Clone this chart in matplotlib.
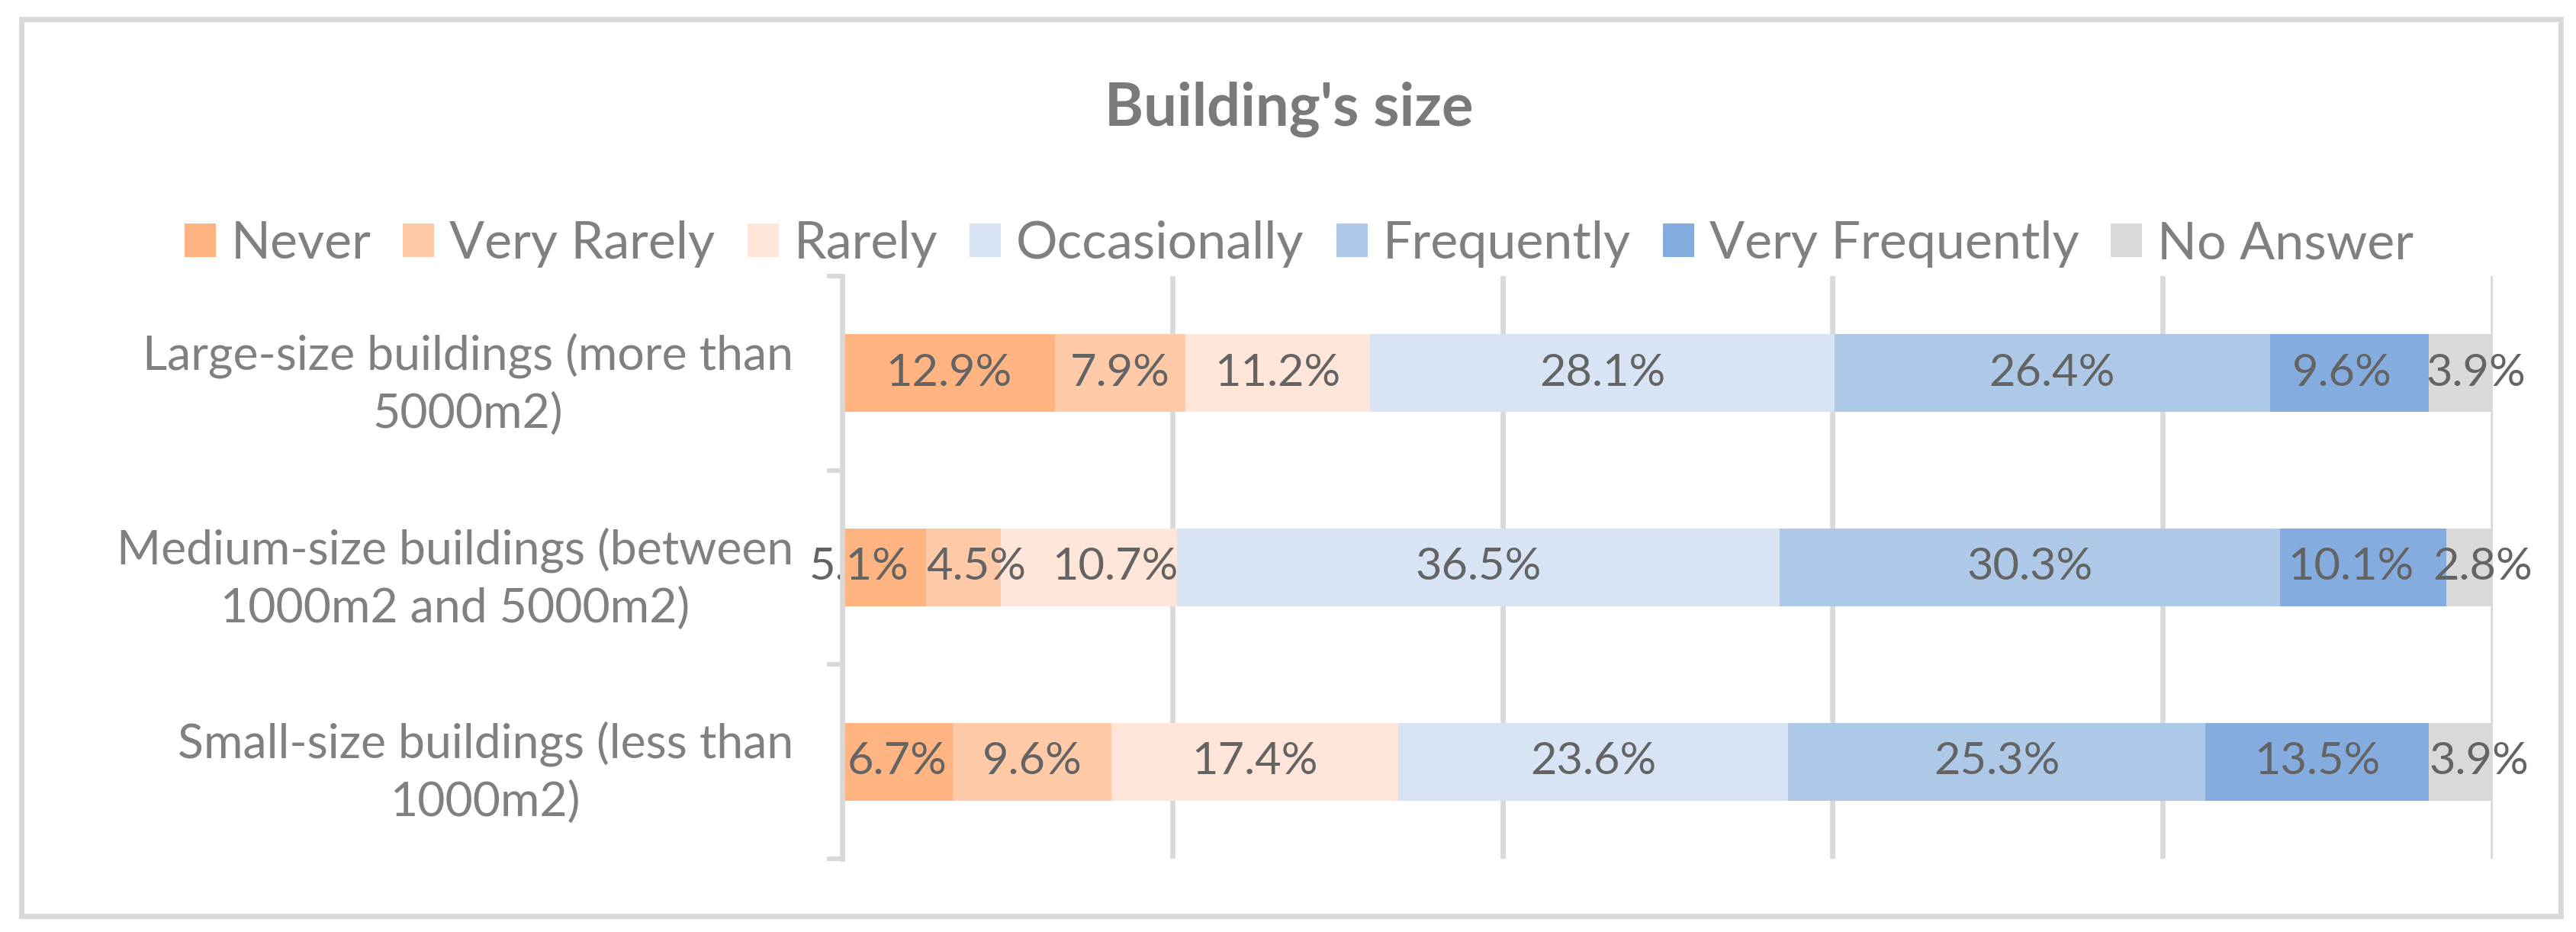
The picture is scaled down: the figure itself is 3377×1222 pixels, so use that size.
import matplotlib
matplotlib.use('Agg')
import matplotlib.pyplot as plt
from matplotlib.font_manager import FontProperties
from matplotlib.textpath import TextPath
from matplotlib.patches import Rectangle, Patch
import numpy as np

# ---------------- data ----------------
categories = [
    "Large-size buildings (more than\n5000m2)",
    "Medium-size buildings (between\n1000m2 and 5000m2)",
    "Small-size buildings (less than\n1000m2)",
]
series_names = ["Never", "Very Rarely", "Rarely", "Occasionally",
                "Frequently", "Very Frequently", "No Answer"]
never = [12.9, 5.1, 6.7]
very_rarely = [7.9, 4.5, 9.6]
rarely = [11.2, 10.7, 17.4]
occasionally = [28.1, 36.5, 23.6]
frequently = [26.4, 30.3, 25.3]
very_frequently = [9.6, 10.1, 13.5]
no_answer = [3.9, 2.8, 3.9]
title = "Building's size"
x_ticks = [0, 20, 40, 60, 80, 100]

series_values = [never, very_rarely, rarely, occasionally,
                 frequently, very_frequently, no_answer]
colors = ["#FFB482", "#FFCAA8", "#FFE6D8", "#D8E4F4",
          "#AEC8E8", "#84ACDE", "#D9D9D9"]

# horizontal nudges (pixels) of a few data labels that were moved in the original
label_nudge_px = {(1, 0): -33, (1, 1): 17, (1, 2): 34, (1, 5): -16, (1, 6): 17,
                  (0, 5): -9, (0, 6): 20, (2, 6): 24}

# ---------------- layout helpers ----------------
W, H, DPI = 3377, 1222, 100
FONT = ['Lato', 'DejaVu Sans']
plt.rcParams['font.family'] = FONT


def fit(s, px, weight='normal'):
    fp = FontProperties(family=FONT, weight=weight, size=100)
    ext = TextPath((0, 0), s, prop=fp).get_extents()
    return 100 * px / (ext.width * DPI / 72)


cat_fs = fit("Medium-size buildings (between", 877)
leg_fs = fit("Very Frequently", 484)
lab_fs = fit("36.5%", 160)
title_fs = fit("Building's size", 474, 'bold')

GRID = '#D9D9D9'
TXT = '#808080'
LAB = '#646464'

fig = plt.figure(figsize=(W / DPI, H / DPI), dpi=DPI)
fig.patch.set_facecolor('white')
ax = fig.add_axes([1104 / W, 1 - 1126 / H, (3268 - 1104) / W, (1126 - 362) / H])

y = np.arange(len(categories))
left = np.zeros(len(categories))
handles = []
for si, (name, vals, c) in enumerate(zip(series_names, series_values, colors)):
    vals = np.array(vals, dtype=float)
    ax.barh(y, vals, left=left, height=0.4, color=c, label=name, zorder=3)
    for ci, (yi, l, v) in enumerate(zip(y, left, vals)):
        dx = label_nudge_px.get((ci, si), 0) * 72 / DPI
        ax.annotate(f"{v:.1f}%", xy=(l + v / 2, yi), xytext=(dx, 0),
                    textcoords='offset points', ha='center', va='center',
                    fontsize=lab_fs, color=LAB, zorder=4)
    left += vals
    handles.append(Patch(facecolor=c, edgecolor='none', label=name))

ax.set_xlim(0, 100)
ax.set_ylim(len(categories) - 0.5, -0.5)
ax.set_xticks(x_ticks)
ax.tick_params(axis='x', length=0, labelbottom=False)
ax.grid(axis='x', color=GRID, lw=4.8, zorder=0)
ax.set_axisbelow(True)
for s in ['top', 'right', 'bottom']:
    ax.spines[s].set_visible(False)
ax.spines['left'].set_color(GRID)
ax.spines['left'].set_linewidth(4.8)
ax.spines['left'].set_zorder(5)

ax.set_yticks(y)
ax.set_yticklabels(categories, fontsize=cat_fs, color=TXT)
for t in ax.get_yticklabels():
    t.set_multialignment('center')
    t.set_linespacing(1.4)
ax.tick_params(axis='y', which='major', length=0, pad=64 * 72 / DPI)
ax.set_yticks(np.arange(len(categories) + 1) - 0.5, minor=True)
ax.tick_params(axis='y', which='minor', length=20 * 72 / DPI, width=4.3, color=GRID)

# title
fig.text(1690 / W, 1 - 165 / H, title, ha='center', va='baseline',
         fontsize=title_fs, fontweight='bold', color='#7A7A7A')

# legend
leg_px = leg_fs * DPI / 72
hs = 41 / leg_px
fig.legend(handles=handles, loc='center', bbox_to_anchor=(1703 / W, 1 - 320 / H),
           ncol=len(series_names), frameon=False, fontsize=leg_fs,
           handlelength=hs, handleheight=hs, handletextpad=20 / leg_px,
           columnspacing=42 / leg_px, labelcolor=TXT, borderaxespad=0,
           borderpad=0)

# chart border
fig.add_artist(Rectangle((28 / W, 1 - 1201 / H), (3357 - 28) / W, (1201 - 25) / H,
                         transform=fig.transFigure, fill=False, ec=GRID, lw=5))

fig.savefig('out.png', dpi=DPI, facecolor='white')
